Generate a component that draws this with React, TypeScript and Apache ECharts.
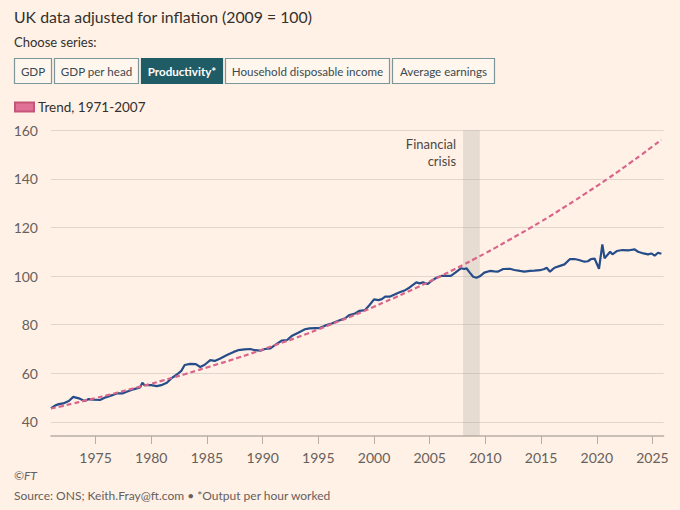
import React, { useEffect, useRef } from "react";
import * as echarts from "echarts";

const titleText = "UK data adjusted for inflation (2009 = 100)";
const chooseText = "Choose series:";
const buttonLabels = ["GDP", "GDP per head", "Productivity*", "Household disposable income", "Average earnings"];
const selectedButton = "Productivity*";
const trendName = "Trend, 1971-2007";
const prodName = "Productivity";
const footerCopy = "©FT";
const footerSource = "Source: ONS; Keith.Fray@ft.com • *Output per hour worked";

const yTicks = [40, 60, 80, 100, 120, 140, 160];
const xTicks = [1975, 1980, 1985, 1990, 1995, 2000, 2005, 2010, 2015, 2020, 2025];
const crisisStart = 2008.0;
const crisisEnd = 2009.5;

const prodYears = [
  1971.0, 1971.4, 1971.7, 1972.1, 1972.6, 1973.0, 1973.5, 1974.0, 1974.4, 1974.8,
  1975.4, 1975.9, 1976.5, 1976.9, 1977.4, 1977.8, 1978.4, 1979.0, 1979.2, 1979.4,
  1980.0, 1980.5, 1980.9, 1981.4, 1981.8, 1982.3, 1982.7, 1983.0, 1983.5, 1984.0,
  1984.4, 1984.8, 1985.3, 1985.7, 1986.2, 1986.8, 1987.4, 1987.8, 1988.4, 1988.9,
  1989.3, 1989.8, 1990.2, 1990.7, 1991.1, 1991.7, 1992.2, 1992.6, 1993.2, 1993.8,
  1994.2, 1994.7, 1995.1, 1995.6, 1996.2, 1996.8, 1997.4, 1997.8, 1998.3, 1998.7,
  1999.2, 1999.6, 2000.0, 2000.4, 2000.7, 2001.0, 2001.4, 2001.9, 2002.3, 2002.8,
  2003.2, 2003.8, 2004.1, 2004.4, 2004.8, 2005.2, 2005.6, 2006.1, 2006.5, 2006.9,
  2007.3, 2007.8, 2008.1, 2008.3, 2008.6, 2008.9, 2009.2, 2009.5, 2009.9, 2010.4,
  2010.8, 2011.1, 2011.6, 2012.2, 2012.6, 2013.1, 2013.5, 2014.0, 2014.4, 2014.9,
  2015.3, 2015.5, 2015.8, 2016.2, 2016.7, 2017.1, 2017.6, 2018.0, 2018.4, 2018.9,
  2019.2, 2019.5, 2019.8, 2020.2, 2020.5, 2020.7, 2021.2, 2021.4, 2021.8, 2022.3,
  2022.9, 2023.4, 2023.7, 2024.2, 2024.6, 2024.9, 2025.2, 2025.5, 2025.8,
];
const prodValues = [
  45.6, 46.8, 47.3, 47.6, 48.6, 50.3, 49.7, 48.6, 49.4, 49.2,
  49.0, 50.1, 51.0, 51.7, 51.7, 52.4, 53.4, 54.2, 56.1, 55.1,
  55.1, 54.7, 55.1, 56.1, 57.9, 59.5, 61.0, 63.4, 63.9, 63.8,
  62.6, 63.5, 65.4, 65.1, 66.1, 67.5, 68.8, 69.5, 69.8, 70.0,
  69.5, 69.3, 70.0, 70.2, 71.6, 73.4, 73.7, 75.3, 76.7, 78.1,
  78.5, 78.6, 78.6, 79.6, 80.5, 81.6, 82.6, 84.0, 84.6, 85.7,
  86.0, 88.1, 90.4, 90.1, 90.5, 91.5, 91.5, 92.5, 93.3, 94.2,
  95.3, 97.4, 97.0, 97.4, 96.7, 98.1, 99.3, 100.1, 100.1, 100.1,
  101.4, 103.2, 102.9, 103.2, 101.4, 99.7, 99.3, 99.9, 101.4, 102.1,
  101.9, 101.8, 102.9, 103.0, 102.5, 102.1, 101.8, 102.1, 102.2, 102.4,
  102.9, 103.4, 101.8, 103.4, 104.2, 104.8, 107.0, 107.0, 106.6, 105.9,
  106.1, 107.0, 107.2, 103.0, 113.0, 107.3, 110.0, 108.9, 110.3, 110.7,
  110.6, 111.0, 110.0, 109.3, 108.9, 109.3, 108.4, 109.6, 109.2,
];

const trendYears = [
  1971, 1972, 1973, 1974, 1975, 1976, 1977, 1978, 1979, 1980,
  1981, 1982, 1983, 1984, 1985, 1986, 1987, 1988, 1989, 1990,
  1991, 1992, 1993, 1994, 1995, 1996, 1997, 1998, 1999, 2000,
  2001, 2002, 2003, 2004, 2005, 2006, 2007, 2008, 2009, 2010,
  2011, 2012, 2013, 2014, 2015, 2016, 2017, 2018, 2019, 2020,
  2021, 2022, 2023, 2024, 2025, 2025.8,
];
const trendValues = [
  45.5, 46.5, 47.6, 48.7, 49.8, 50.9, 52.1, 53.3, 54.5, 55.7,
  57.0, 58.3, 59.6, 61.0, 62.4, 63.8, 65.2, 66.7, 68.2, 69.8,
  71.4, 73.0, 74.6, 76.3, 78.1, 79.9, 81.7, 83.5, 85.4, 87.4,
  89.4, 91.4, 93.5, 95.6, 97.8, 100.0, 102.3, 104.6, 107.0, 109.4,
  111.9, 114.5, 117.1, 119.7, 122.4, 125.2, 128.1, 131.0, 134.0, 137.0,
  140.1, 143.3, 146.6, 149.9, 153.3, 156.1,
];

const FONT = "Lato, 'Noto Sans', sans-serif";
const BG = "#fff1e5";
const TEXT_DARK = "#33302e";
const TEXT_MID = "#66605c";
const BLUE = "#264d8a";
const PINK = "#d9658b";
const TEAL = "#1f5c66";

export default function App() {
  const ref = useRef<HTMLDivElement>(null);

  useEffect(() => {
    document.body.style.margin = "0";
    document.body.style.background = BG;
    if (!ref.current) return;
    const chart = echarts.init(ref.current, null, { renderer: "svg", width: 680, height: 510 });

    const buttonWidths = [37, 84, 81, 164, 102];
    const buttons: any[] = [];
    let bx = 14;
    buttonLabels.forEach((label, i) => {
      const w = buttonWidths[i];
      const sel = label === selectedButton;
      buttons.push({
        type: "rect",
        shape: { x: bx + 0.5, y: 58.5, width: w, height: 25 },
        style: { fill: sel ? TEAL : "#fff6ee", stroke: sel ? TEAL : "#7d9699", lineWidth: 1.2 },
        silent: true,
      });
      buttons.push({
        type: "text",
        x: bx + 0.5 + w / 2,
        y: 71,
        style: {
          text: label,
          fill: sel ? "#ffffff" : "#3a4a50",
          font: `${sel ? 700 : 400} 11.6px ${FONT}`,
          align: "center",
          verticalAlign: "middle",
        },
        silent: true,
      });
      bx += w + 3;
    });

    const option: any = {
      animation: false,
      backgroundColor: BG,
      textStyle: { fontFamily: FONT },
      graphic: [
        {
          type: "text",
          x: 14,
          y: 16,
          style: { text: titleText, fill: TEXT_DARK, font: `400 15.8px ${FONT}`, verticalAlign: "middle" },
        },
        {
          type: "text",
          x: 14,
          y: 42,
          style: { text: chooseText, fill: TEXT_DARK, font: `400 13px ${FONT}`, verticalAlign: "middle" },
        },
        ...buttons,
        {
          type: "text",
          x: 14,
          y: 475,
          style: { text: footerCopy, fill: TEXT_MID, font: `italic 400 12px ${FONT}`, verticalAlign: "middle" },
        },
        {
          type: "text",
          x: 14,
          y: 495,
          style: { text: footerSource, fill: TEXT_MID, font: `400 12px ${FONT}`, verticalAlign: "middle" },
        },
      ],
      legend: {
        show: true,
        data: [trendName],
        left: 9,
        top: 95,
        icon: "rect",
        itemWidth: 19,
        itemHeight: 9,
        itemGap: 4,
        textStyle: { color: TEXT_DARK, fontSize: 13.5, fontFamily: FONT, padding: [0, 0, 0, -1] },
        selectedMode: false,
      },
      grid: { left: 51, right: 16.4, top: 130.2, bottom: 74, containLabel: false },
      xAxis: {
        type: "value",
        min: 1971,
        max: 2026,
        axisLine: { show: true, lineStyle: { color: "#b8ada4", width: 1.5 } },
        axisTick: { show: true, length: 8, customValues: xTicks, lineStyle: { color: "#b8ada4", width: 1 } },
        axisLabel: {
          customValues: xTicks,
          color: TEXT_MID,
          fontSize: 14,
          fontFamily: FONT,
          margin: 14,
          formatter: (v: number) => String(v),
        },
        splitLine: { show: false },
      },
      yAxis: {
        type: "value",
        min: 34.2,
        max: 160,
        axisLine: { show: false },
        axisTick: { show: false, customValues: yTicks },
        axisLabel: {
          customValues: yTicks,
          color: TEXT_MID,
          fontSize: 14,
          fontFamily: FONT,
          margin: 13,
          formatter: (v: number) => String(v),
        },
        splitLine: { show: true, lineStyle: { color: "#e0d6cc", width: 1.2 } },
      },
      series: [
        {
          name: prodName,
          type: "line",
          data: prodYears.map((y, i) => [y, prodValues[i]]),
          showSymbol: false,
          lineStyle: { color: BLUE, width: 2.2 },
          itemStyle: { color: BLUE },
          z: 3,
          markArea: {
            silent: true,
            itemStyle: { color: "rgba(170,165,160,0.28)" },
            label: {
              show: true,
              position: [-7, 5],
              align: "right",
              verticalAlign: "top",
              color: "#4d4845",
              fontSize: 13,
              fontFamily: FONT,
              lineHeight: 17,
            },
            data: [[{ xAxis: crisisStart, name: "Financial\ncrisis" }, { xAxis: crisisEnd }]],
          },
        },
        {
          name: trendName,
          type: "line",
          data: trendYears.map((y, i) => [y, trendValues[i]]),
          showSymbol: false,
          smooth: true,
          lineStyle: { color: PINK, width: 2.2, type: [5, 3] },
          itemStyle: { color: "#e07197", borderColor: "#c55479", borderWidth: 1 },
          z: 4,
        },
      ],
    };
    chart.setOption(option);
    return () => chart.dispose();
  }, []);

  return (
    <div
      ref={ref}
      style={{ position: "fixed", left: 0, top: 0, width: 680, height: 510, background: BG }}
    />
  );
}
